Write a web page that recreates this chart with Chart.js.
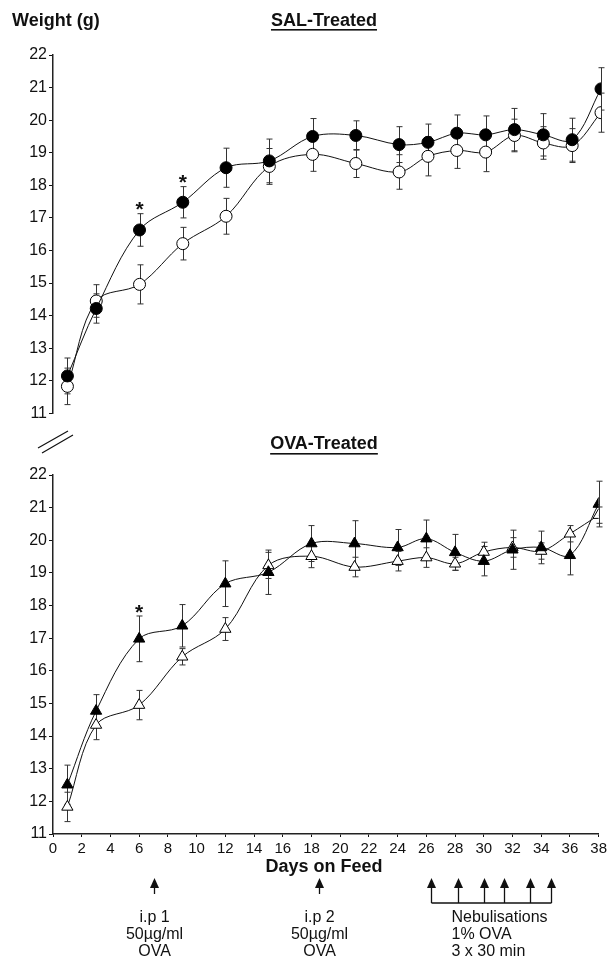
<!DOCTYPE html>
<html>
<head>
<meta charset="utf-8">
<script src="https://cdn.jsdelivr.net/npm/chart.js@4"></script>
<style>
  body { margin: 0; background: #fff; }
  #wrap { position: relative; width: 610px; height: 962px; }
  canvas { position: absolute; left: 0; }
  #sal { top: 0; }
  #ova { top: 425px; }
</style>
</head>
<body>
<div id="wrap">
  <canvas id="sal" width="610" height="425"></canvas>
  <canvas id="ova" width="610" height="537"></canvas>
</div>
<script>
// days the mice were weighed
const days = [1, 3, 6, 9, 12, 15, 18, 21, 24, 26, 28, 30, 32, 34, 36, 38];
const xTicks = [0, 2, 4, 6, 8, 10, 12, 14, 16, 18, 20, 22, 24, 26, 28, 30, 32, 34, 36, 38];
const yTicks = [11, 12, 13, 14, 15, 16, 17, 18, 19, 20, 21, 22];

// SAL-treated (circles)
const salFilled    = [12.15, 14.22, 16.63, 17.48, 18.54, 18.75, 19.50, 19.53, 19.25, 19.32, 19.60, 19.55, 19.71, 19.55, 19.40, 20.96];
const salFilledSem = [0.55, 0.45, 0.50, 0.48, 0.60, 0.67, 0.55, 0.45, 0.55, 0.56, 0.56, 0.58, 0.65, 0.65, 0.66, 0.65];
const salOpen      = [11.83, 14.45, 14.96, 16.21, 17.05, 18.58, 18.95, 18.67, 18.41, 18.89, 19.07, 19.02, 19.53, 19.30, 19.22, 20.23];
const salOpenSem   = [0.56, 0.50, 0.60, 0.50, 0.55, 0.55, 0.52, 0.43, 0.53, 0.60, 0.55, 0.60, 0.50, 0.50, 0.52, 0.60];
const salStarDays  = [6, 9];

// OVA-treated (triangles)
const ovaFilled    = [12.51, 14.77, 16.98, 17.38, 18.67, 19.02, 19.90, 19.90, 19.78, 20.05, 19.63, 19.36, 19.71, 19.78, 19.54, 21.11];
const ovaFilledSem = [0.60, 0.50, 0.70, 0.65, 0.70, 0.68, 0.55, 0.70, 0.55, 0.57, 0.55, 0.45, 0.60, 0.50, 0.60, 0.70];
const ovaOpen      = [11.83, 14.34, 14.95, 16.43, 17.28, 19.23, 19.51, 19.18, 19.36, 19.47, 19.28, 19.64, 19.78, 19.67, 20.20, 20.77];
const ovaOpenSem   = [0.45, 0.45, 0.45, 0.25, 0.35, 0.40, 0.35, 0.30, 0.30, 0.30, 0.20, 0.30, 0.30, 0.25, 0.25, 0.25];
const ovaStarDays  = [6];

// treatment schedule
const ipDays = [7, 18.5];
const ipLabels = ['i.p 1', 'i.p 2'];
const nebDays = [26.3, 28.2, 30, 31.4, 33.2, 34.7];

const FONT = '"Liberation Sans", Arial, sans-serif';
const INK = '#111';

function pts(vals) {
  return vals.map((v, i) => ({ x: days[i], y: v }));
}

function series(vals, sem, style, fill, radius) {
  return {
    data: pts(vals),
    errors: sem,
    borderColor: INK,
    borderWidth: 1,
    tension: 0.35,
    pointStyle: style,
    pointRadius: radius,
    pointBackgroundColor: fill,
    pointBorderColor: '#000',
    pointBorderWidth: 1
  };
}

const errorBars = {
  id: 'errorBars',
  beforeDatasetsDraw(chart) {
    const ctx = chart.ctx, ys = chart.scales.y;
    ctx.save();
    ctx.strokeStyle = '#333';
    ctx.lineWidth = 1;
    chart.data.datasets.forEach((ds, di) => {
      const meta = chart.getDatasetMeta(di);
      ds.errors.forEach((s, i) => {
        const x = Math.round(meta.data[i].x) + 0.5;
        const v = ds.data[i].y;
        const y1 = ys.getPixelForValue(v - s), y2 = ys.getPixelForValue(v + s);
        ctx.beginPath();
        ctx.moveTo(x, y1); ctx.lineTo(x, y2);
        ctx.moveTo(x - 3, y1); ctx.lineTo(x + 3, y1);
        ctx.moveTo(x - 3, y2); ctx.lineTo(x + 3, y2);
        ctx.stroke();
      });
    });
    ctx.restore();
  }
};

const stars = {
  id: 'stars',
  afterDatasetsDraw(chart, args, opts) {
    const ctx = chart.ctx, ds = chart.data.datasets[0];
    ctx.save();
    ctx.fillStyle = INK;
    ctx.font = 'bold 21px ' + FONT;
    ctx.textAlign = 'center';
    ctx.textBaseline = 'middle';
    opts.days.forEach(d => {
      const i = days.indexOf(d);
      const top = chart.scales.y.getPixelForValue(ds.data[i].y + ds.errors[i]);
      ctx.fillText('*', chart.scales.x.getPixelForValue(d), top - 3);
    });
    ctx.restore();
  }
};

function underlined(ctx, text, cx, cy, uy) {
  ctx.font = 'bold 18px ' + FONT;
  ctx.textAlign = 'center';
  ctx.textBaseline = 'middle';
  ctx.fillText(text, cx, cy);
  const w = ctx.measureText(text).width;
  ctx.fillRect(cx - w / 2, uy, w, 1.6);
}

const salText = {
  id: 'salText',
  afterDraw(chart) {
    const ctx = chart.ctx;
    ctx.save();
    ctx.fillStyle = INK;
    ctx.font = 'bold 18px ' + FONT;
    ctx.textAlign = 'left';
    ctx.textBaseline = 'middle';
    ctx.fillText('Weight (g)', 12, 21);
    underlined(ctx, 'SAL-Treated', 324, 21, 29);
    ctx.restore();
  }
};

function arrow(ctx, x, tip, bottom) {
  ctx.beginPath();
  ctx.moveTo(x, tip + 8); ctx.lineTo(x, bottom);
  ctx.stroke();
  ctx.beginPath();
  ctx.moveTo(x, tip); ctx.lineTo(x - 4.5, tip + 10); ctx.lineTo(x + 4.5, tip + 10);
  ctx.closePath();
  ctx.fill();
}

const ovaText = {
  id: 'ovaText',
  afterDraw(chart) {
    const ctx = chart.ctx, xs = chart.scales.x;
    ctx.save();
    ctx.fillStyle = INK;
    ctx.strokeStyle = INK;
    underlined(ctx, 'OVA-Treated', 324, 19, 28);

    // axis break mark
    ctx.lineWidth = 1.2;
    ctx.beginPath();
    ctx.moveTo(38, 23); ctx.lineTo(68, 6);
    ctx.moveTo(42, 28); ctx.lineTo(73, 10);
    ctx.stroke();

    ctx.font = 'bold 18px ' + FONT;
    ctx.textAlign = 'center';
    ctx.textBaseline = 'middle';
    ctx.fillText('Days on Feed', 324, 442);

    ctx.lineWidth = 1.3;
    ctx.font = '16px ' + FONT;
    ipDays.forEach((d, k) => {
      const x = Math.round(xs.getPixelForValue(d)) + 0.5;
      arrow(ctx, x, 453, 469);
      ctx.textAlign = 'center';
      ctx.fillText(ipLabels[k], x, 493);
      ctx.fillText('50\u00b5g/ml', x, 510);
      ctx.fillText('OVA', x, 527);
    });

    const nx = nebDays.map(d => Math.round(xs.getPixelForValue(d)) + 0.5);
    nx.forEach(x => arrow(ctx, x, 453, 478));
    ctx.beginPath();
    ctx.moveTo(nx[0], 478); ctx.lineTo(nx[nx.length - 1], 478);
    ctx.stroke();
    ctx.textAlign = 'left';
    const tx = nx[0] + 20;
    ctx.fillText('Nebulisations', tx, 493);
    ctx.fillText('1% OVA', tx, 510);
    ctx.fillText('3 x 30 min', tx, 527);
    ctx.restore();
  }
};

function options(padTop, padBottom, showX, starDays) {
  return {
    responsive: false,
    animation: false,
    layout: { padding: { top: padTop, bottom: padBottom, left: 0, right: 9 } },
    plugins: { legend: { display: false }, tooltip: { enabled: false }, stars: { days: starDays } },
    scales: {
      x: {
        type: 'linear', min: 0, max: 38,
        display: showX,
        afterBuildTicks: s => { s.ticks = xTicks.map(v => ({ value: v })); },
        afterFit: s => { if (showX) s.height = 128; },
        grid: { drawOnChartArea: false, tickLength: 3, color: INK },
        border: { color: '#222', width: 1.5 },
        ticks: { color: INK, font: { family: FONT, size: 15 }, padding: 3, maxRotation: 0, autoSkip: false }
      },
      y: {
        min: 11, max: 22,
        afterBuildTicks: s => { s.ticks = yTicks.map(v => ({ value: v })); },
        afterFit: s => { s.width = 53; },
        grid: { drawOnChartArea: false, tickLength: 4, color: INK },
        border: { color: '#222', width: 1.5 },
        ticks: { color: INK, font: { family: FONT, size: 16 }, padding: 2 }
      }
    }
  };
}

new Chart(document.getElementById('sal'), {
  type: 'line',
  data: {
    datasets: [
      series(salFilled, salFilledSem, 'circle', '#000', 6),
      series(salOpen, salOpenSem, 'circle', '#fff', 6)
    ]
  },
  options: options(55, 6, false, salStarDays),
  plugins: [errorBars, stars, salText]
});

new Chart(document.getElementById('ova'), {
  type: 'line',
  data: {
    datasets: [
      series(ovaFilled, ovaFilledSem, 'triangle', '#000', 6.5),
      series(ovaOpen, ovaOpenSem, 'triangle', '#fff', 6.5)
    ]
  },
  options: options(50, 0, true, ovaStarDays),
  plugins: [errorBars, stars, ovaText]
});
</script>
</body>
</html>
